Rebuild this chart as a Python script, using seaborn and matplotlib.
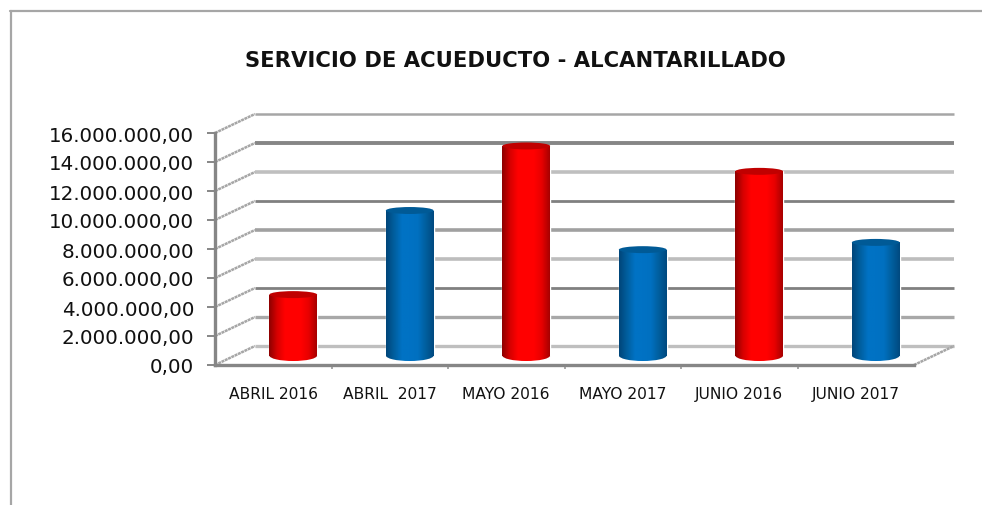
import numpy as np
import matplotlib
matplotlib.use("Agg")
import matplotlib.pyplot as plt
from matplotlib.colors import LinearSegmentedColormap
from matplotlib.lines import Line2D
from matplotlib.patches import Ellipse
import seaborn as sns

categories = ["ABRIL 2016", "ABRIL  2017", "MAYO 2016", "MAYO 2017", "JUNIO 2016", "JUNIO 2017"]
values = [4200000, 10000000, 14450000, 7300000, 12700000, 7800000]
years = ["2016", "2017", "2016", "2017", "2016", "2017"]
y_ticks = [0, 2000000, 4000000, 6000000, 8000000, 10000000, 12000000, 14000000, 16000000]
y_labels = ["0,00", "2.000.000,00", "4.000.000,00", "6.000.000,00", "8.000.000,00",
            "10.000.000,00", "12.000.000,00", "14.000.000,00", "16.000.000,00"]
grid_colors = ["#bfbfbf", "#a8a8a8", "#808080", "#bdbdbd", "#a0a0a0", "#808080", "#bfbfbf", "#868686", "#a6a6a6"]
grid_widths = [2.4, 2.4, 2.0, 2.6, 2.6, 2.0, 2.6, 2.8, 1.8]

DEPTH_X = 0.343
DEPTH_Y = 1310000
ELLIPSE_H = 480000
BASE_H = 760000

red_map = LinearSegmentedColormap.from_list("r", ["#8f0000", "#d80000", "#ff0000", "#ff0000", "#ff0000", "#e80000", "#a80000"])
blue_map = LinearSegmentedColormap.from_list("b", ["#00467a", "#005f9f", "#0072c4", "#0072c4", "#0070c0", "#005f9f", "#004a80"])
gradient = np.linspace(0, 1, 64).reshape(1, -1)

sns.set_theme(style="white")
plt.rcParams["font.family"] = ["DejaVu Sans"]

fig = plt.figure(figsize=(9.82, 5.06), dpi=100)
ax = fig.add_axes([215 / 982, (506 - 366) / 506, 699 / 982, 232 / 506])

sns.barplot(x=categories, y=values, hue=years, palette={"2016": "#ff0000", "2017": "#0070c0"},
            width=0.41, dodge=False, legend=False, ax=ax)

ax.set_xlim(-0.5, 5.5)
ax.set_ylim(0, 16000000)

# back wall and left wall lines
for v, c, w in zip(y_ticks, grid_colors, grid_widths):
    ax.plot([-0.5 + DEPTH_X, 5.5 + DEPTH_X], [v + DEPTH_Y, v + DEPTH_Y], color=c, lw=w,
            clip_on=False, zorder=0.5, solid_capstyle="butt")
    ax.plot([-0.5, -0.5 + DEPTH_X], [v, v + DEPTH_Y], color="#a6a6a6", lw=1.8, ls=(0, (1.2, 0.25)),
            clip_on=False, zorder=0.6)
ax.plot([5.5, 5.5 + DEPTH_X], [0, DEPTH_Y], color="#a6a6a6", lw=1.8, ls=(0, (1.2, 0.25)),
        clip_on=False, zorder=0.6)

# bars sit halfway in the depth, shaded like cylinders
# seaborn keeps them by hue group, so put them back in category order
bars = sorted(ax.patches, key=lambda p: p.get_x())
for patch, year in zip(bars, years):
    patch.set_x(patch.get_x() + DEPTH_X / 2)
    patch.set_y(DEPTH_Y / 2)
    patch.set_clip_on(False)
    patch.set_zorder(2)
    x0, w, h = patch.get_x(), patch.get_width(), patch.get_height()
    cmap = red_map if year == "2016" else blue_map
    top_color = "#c00000" if year == "2016" else "#005a96"
    base = Ellipse((x0 + w / 2, DEPTH_Y / 2), w, BASE_H, transform=ax.transData, fc="none", ec="none")
    ax.add_patch(base)
    for clip in (patch, base):
        im = ax.imshow(gradient, cmap=cmap, aspect="auto", zorder=3, interpolation="bilinear",
                       extent=(x0, x0 + w, 0, DEPTH_Y / 2 + h))
        im.set_clip_path(clip)
    ax.add_patch(Ellipse((x0 + w / 2, DEPTH_Y / 2 + h), w, ELLIPSE_H, fc=top_color, ec="none",
                         zorder=4, clip_on=False))

ax.set_xlim(-0.5, 5.5)
ax.set_ylim(0, 16000000)

for side in ["top", "right"]:
    ax.spines[side].set_visible(False)
for side in ["left", "bottom"]:
    ax.spines[side].set_color("#868686")
    ax.spines[side].set_linewidth(2.4)
    ax.spines[side].set_zorder(5)

ax.set_yticks(y_ticks)
ax.set_yticklabels(y_labels, fontsize=14.3, color="#111111")
ax.tick_params(axis="y", length=6, width=1.4, color="#868686", pad=9, left=True)
ax.tick_params(axis="x", length=0, pad=15, labelsize=11.2, labelcolor="#111111")
ax.set_xticks(np.arange(1, 6) - 0.5, minor=True)
ax.tick_params(axis="x", which="minor", length=3, width=1.4, color="#a6a6a6", bottom=True)
ax.set_xlabel("")
ax.set_ylabel("")
ax.patch.set_alpha(0)

fig.text(515 / 982, 1 - 61 / 506, "SERVICIO DE ACUEDUCTO - ALCANTARILLADO", ha="center", va="center",
         fontsize=15.2, fontweight="bold", color="#111111")

# chart frame, cut by the crop on the right and bottom
fig.add_artist(Line2D([10.5 / 982, 10.5 / 982], [0, 1 - 11.5 / 506], color="#a6a6a6", lw=1.6))
fig.add_artist(Line2D([10 / 982, 1], [1 - 11.5 / 506, 1 - 11.5 / 506], color="#a6a6a6", lw=1.6))

fig.savefig("out.png", dpi=100)
